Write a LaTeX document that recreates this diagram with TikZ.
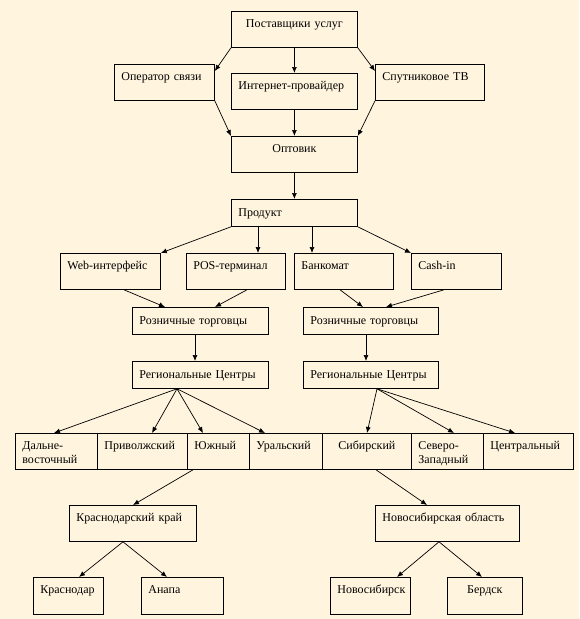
\documentclass[tikz,border=0pt]{standalone}
\usepackage{fontspec}
\setmainfont{Liberation Serif}
\usepackage{tikz}
\usetikzlibrary{arrows.meta,calc}
\definecolor{cream}{RGB}{255,244,222}
\tikzset{box/.style={draw, line width=0.8pt, anchor=north west, inner xsep=7pt, inner ysep=0pt, align=left, text height=16pt, text depth=20pt, font=\fontsize{12}{14}\selectfont, execute at begin node={\exhyphenpenalty=10000}},
  low/.style={text height=17pt, text depth=10pt},
  deep/.style={text depth=21pt},
  arr/.style={-{Latex[length=6pt,width=5pt]}, line width=0.7pt}}

\begin{document}
\begin{tikzpicture}[x=1pt,y=-1pt]
\fill[cream] (0,0) rectangle (579,619);
\useasboundingbox (0,0) rectangle (579,619);

\node[box, text width=112pt, align=center] (sup) at (231,11) {Поставщики услуг};
\node[box, text width=86pt] (oper) at (114,64) {Оператор связи};
\node[box, text width=112pt] (inet) at (231,73) {Интернет-провайдер};
\node[box, text width=95pt] (sat) at (375,64) {Спутниковое ТВ};
\node[box, text width=112pt, align=center] (opt) at (231,136) {Оптовик};
\node[box, low, text width=112pt] (prod) at (231,199) {Продукт};

\node[box, text width=86pt] (web) at (60,253) {Web-интерфейс};
\node[box, text width=85pt] (pos) at (186,253) {POS-терминал};
\node[box, text width=85pt] (atm) at (294,253) {Банкомат};
\node[box, text width=76pt] (cash) at (411,253) {Cash-in};
\node[box, low, text width=122pt] (retL) at (132,307) {Розничные торговцы};
\node[box, low, text width=121pt] (retR) at (303,307) {Розничные торговцы};
\node[box, low, text width=122pt] (regL) at (132,361) {Региональные Центры};
\node[box, low, text width=121pt] (regR) at (303,361) {Региональные Центры};

\node[box, text width=68pt] (dv) at (15,433) {Дальне-\\восточный};
\node[box, text width=76pt] (pv) at (97,433) {Приволжский};
\node[box, text width=48pt] (yu) at (187,433) {Южный};
\node[box, text width=59pt] (ur) at (249,433) {Уральский};
\node[box, text width=75pt, align=center] (sib) at (322,433) {Сибирский};
\node[box, text width=58pt] (sz) at (411,433) {Северо-\\Западный};
\node[box, text width=76pt] (cen) at (483,433) {Центральный};

\node[box, text width=113pt] (kk) at (69,505) {Краснодарский край};
\node[box, text width=130pt] (no) at (375,505) {Новосибирская область};
\node[box, deep, text width=56pt] (krd) at (33,577) {Краснодар};
\node[box, deep, text width=68pt] (anp) at (141,577) {Анапа};
\node[box, deep, text width=66pt] (nsk) at (330,577) {Новосибирск};
\node[box, deep, text width=61pt, align=center] (brd) at (447,577) {Бердск};

\draw[arr] (sup.south west) -- ($(oper.north east)+(0,7)$);
\draw[arr] (sup.south) -- (inet.north);
\draw[arr] (sup.south east) -- ($(sat.north west)+(0,7)$);
\draw[arr] (oper.south east) -- (opt.north west);
\draw[arr] (inet.south) -- (opt.north);
\draw[arr] (sat.south west) -- (opt.north east);
\draw[arr] (opt.south) -- (prod.north);

\draw[arr] (prod.south west) -- (web.north east);
\draw[arr] ($(prod.south west)+(27,0)$) -- ($(pos.north west)+(72,0)$);
\draw[arr] ($(prod.south west)+(81,0)$) -- ($(atm.north west)+(18,0)$);
\draw[arr] (prod.south east) -- (cash.north west);
\draw[arr] ($(web.south west)+(64,0)$) -- ($(retL.north west)+(33,0)$);
\draw[arr] ($(pos.south west)+(61,0)$) -- ($(retL.north west)+(83,0)$);
\draw[arr] ($(atm.south west)+(46,0)$) -- ($(retR.north west)+(60,0)$);
\draw[arr] ($(cash.south west)+(33,0)$) -- ($(retR.north west)+(83,0)$);
\draw[arr] ($(retL.south west)+(63,0)$) -- ($(regL.north west)+(63,0)$);
\draw[arr] ($(retR.south west)+(63,0)$) -- ($(regR.north west)+(63,0)$);

\draw[arr] ($(regL.south west)+(45,0)$) -- ($(dv.north west)+(39,0)$);
\draw[arr] ($(regL.south west)+(45,0)$) -- ($(pv.north west)+(55,0)$);
\draw[arr] ($(regL.south west)+(45,0)$) -- ($(yu.north west)+(16,0)$);
\draw[arr] ($(regL.south west)+(45,0)$) -- ($(ur.north west)+(16,0)$);
\draw[arr] ($(regR.south west)+(74,0)$) -- ($(sib.north west)+(45,0)$);
\draw[arr] ($(regR.south west)+(74,0)$) -- ($(sz.north west)+(43,0)$);
\draw[arr] ($(regR.south west)+(74,0)$) -- ($(cen.north west)+(32,0)$);

\draw[arr] ($(yu.south west)+(6,0)$) -- ($(kk.north west)+(64,0)$);
\draw[arr] ($(sib.south west)+(54,0)$) -- ($(no.north west)+(52,0)$);
\draw[arr] ($(kk.south west)+(54,0)$) -- ($(krd.north west)+(46,0)$);
\draw[arr] ($(kk.south west)+(54,0)$) -- ($(anp.north west)+(26,0)$);
\draw[arr] ($(no.south west)+(64,0)$) -- ($(nsk.north west)+(67,0)$);
\draw[arr] ($(no.south west)+(64,0)$) -- ($(brd.north west)+(35,0)$);
\end{tikzpicture}
\end{document}
